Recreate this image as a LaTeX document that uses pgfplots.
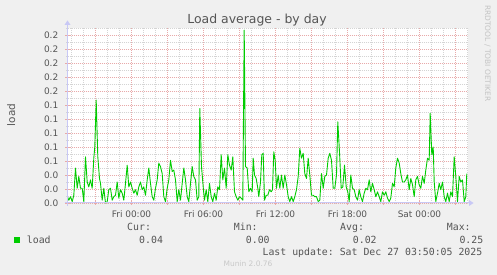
\documentclass[border=0pt]{standalone}
\usepackage{fontspec}
\setmainfont{DejaVu Sans}
\setmonofont{DejaVu Sans Mono}
\usepackage{pgfplots}
\pgfplotsset{compat=1.18}
\definecolor{bg}{RGB}{240,240,240}
\definecolor{txt}{RGB}{85,85,85}
\definecolor{gridc}{RGB}{212,212,212}
\definecolor{mgridc}{RGB}{232,170,170}
\definecolor{axisc}{RGB}{200,200,245}
\definecolor{lineg}{RGB}{0,204,0}
\definecolor{wm}{RGB}{195,195,195}
\definecolor{ver}{RGB}{200,200,200}
\begin{document}
\begin{tikzpicture}
\path[use as bounding box, fill=bg] (0,0) rectangle (497bp,275bp);
\begin{axis}[
  at={(67.5bp,72bp)}, anchor=south west, scale only axis,
  width=400bp, height=175bp,
  xmin=0, xmax=400, ymin=0, ymax=0.25,
  axis line style={draw=none},
  axis background/.style={fill=white},
  xtick={28,64,100,136,172,208,244,280,316,352,388},
  xticklabels={,Fri 00:00,,Fri 06:00,,Fri 12:00,,Fri 18:00,,Sat 00:00,},
  minor xtick={4,16,40,52,76,88,112,124,148,160,184,196,220,232,256,268,292,304,328,340,364,376,400},
  ytick={0,0.02,0.04,0.06,0.08,0.10,0.12,0.14,0.16,0.18,0.20,0.22,0.24},
  yticklabels={0.0,0.0,0.0,0.1,0.1,0.1,0.1,0.1,0.2,0.2,0.2,0.2,0.2},
  minor ytick={0.01,0.03,0.05,0.07,0.09,0.11,0.13,0.15,0.17,0.19,0.21,0.23,0.25},
  grid=both,
  major grid style={draw=mgridc, dash pattern=on 1bp off 1bp, line width=0.7bp},
  minor grid style={draw=gridc, dash pattern=on 1bp off 1bp, line width=0.7bp},
  xtick pos=bottom, ytick pos=left,
  tick align=center,
  major tick length=4bp, minor tick length=2bp,
  every major tick/.append style={draw=mgridc, solid, line width=0.8bp},
  every minor tick/.append style={draw=gridc, solid, line width=0.8bp},
  ticklabel style={font=\fontsize{9}{10}\selectfont, text=txt},
  xticklabel style={anchor=base, inner sep=0pt, yshift=-13bp},
  yticklabel style={anchor=east, inner sep=0pt, xshift=-7bp},
  clip=false,
]
\addplot[color=lineg, line width=0.9bp, line join=round] coordinates {
(0,0.009)(1.3,0.004)(3,0.009)(4.7,0.002)(6.3,0.011)(8,0.050)(9.7,0.021)(11.3,0.038)(13,0.021)(14.7,0.021)(16.3,0.002)(18,0.066)(19.7,0.030)(21.3,0.023)(23,0.033)(24.7,0.021)(26.3,0.064)(27.3,0.080)(28.7,0.147)(30.3,0.066)(32,0.035)(33,0.028)(34.7,0.004)(36.3,0.021)(38,0.000)(39.7,0.002)(41.3,0.019)(43,0.021)(44.7,0.004)(46.3,0.009)(48,0.011)(49.7,0.030)(51.3,0.007)(53,0.019)(54.7,0.014)(56.3,0.004)(58,0.028)(59.7,0.054)(61.3,0.023)(63,0.030)(64.7,0.021)(66.3,0.014)(68,0.019)(69.7,0.011)(71.3,0.023)(73,0.030)(74.7,0.019)(76.3,0.023)(78,0.011)(79.7,0.033)(81.3,0.050)(83,0.028)(84.7,0.009)(86.3,0.004)(88,0.021)(89.7,0.033)(91.3,0.057)(93,0.052)(94.7,0.042)(96.3,0.009)(98,0.002)(99.7,0.021)(101.3,0.033)(103,0.061)(104.7,0.045)(106.3,0.047)(108,0.033)(109.7,0.002)(111.3,0.019)(113,0.004)(114.7,0.028)(116.3,0.050)(118,0.033)(119.7,0.009)(121.3,0.002)(123,0.028)(124.7,0.052)(126.3,0.038)(128,0.033)(129.7,0.004)(131.3,0.009)(132.3,0.135)(134,0.052)(135.7,0.023)(137,0.004)(138.7,0.019)(140.3,0.002)(142,0.028)(143.7,0.009)(145.3,0.002)(147,0.014)(148.7,0.004)(150.3,0.023)(152,0.019)(153.7,0.069)(155.3,0.033)(157,0.050)(158.7,0.021)(160.3,0.069)(162,0.054)(163.7,0.047)(165.3,0.066)(167,0.016)(168.7,0.009)(170.3,0.004)(172,0.009)(173.7,0.007)(175.3,0.004)(176.7,0.247)
(178,0.052)(179.7,0.050)(181.3,0.016)(183,0.021)(184.7,0.016)(185.7,0.064)(187,0.040)(188.7,0.035)(190.3,0.021)(191.3,0.009)(193,0.030)(194.3,0.069)(195.7,0.071)(197,0.004)(198.7,0.011)(200.3,0.011)(202,0.019)(203.7,0.016)(205,0.019)(206.3,0.073)(207.7,0.061)(209,0.021)(210.7,0.040)(212.3,0.021)(214,0.040)(215.7,0.021)(217.3,0.040)(219,0.026)(220.7,0.009)(222.3,0.002)(224,0.009)(225.7,0.002)(227.3,0.009)(229,0.019)(230.7,0.038)(232.3,0.078)(234,0.064)(235.7,0.071)(237.3,0.042)(239,0.035)(240.7,0.064)(242.3,0.040)(244,0.011)(245.7,0.011)(247.3,0.009)(249,0.009)(250.7,0.002)(252.3,0.004)(254,0.042)(255.7,0.021)(257.3,0.038)(259,0.040)(260.7,0.064)(262.3,0.071)(264,0.061)(265.7,0.021)(267.3,0.021)(269,0.040)(270.3,0.116)(272,0.073)(273.7,0.021)(275.3,0.023)(277,0.054)(278.7,0.023)(280.3,0.016)(281.7,0.002)(283.3,0.040)(285,0.021)(286.7,0.019)(288.3,0.009)(290,0.004)(291.7,0.019)(293.3,0.009)(295,0.002)(296.7,0.014)(298.3,0.021)(300,0.019)(301.7,0.033)(303.3,0.016)(305,0.028)(306.7,0.019)(308.3,0.009)(310,0.016)(311.7,0.009)(313.3,0.002)(315,0.016)(316.7,0.011)(318.3,0.016)(320,0.007)(321.7,0.002)(323.3,0.007)(325,0.028)(326.7,0.023)(328.3,0.050)(330,0.064)(331.7,0.057)(333.3,0.042)(335,0.030)(336.7,0.030)(338.3,0.033)(340,0.040)(341.7,0.019)(343.3,0.035)(345,0.026)(346.7,0.009)(348.3,0.033)(350,0.038)(351.7,0.026)(353.3,0.021)(355,0.038)(356.7,0.028)(358.3,0.047)(360,0.064)(361.7,0.061)(362.7,0.128)(364.3,0.069)(365.7,0.080)(366.7,0.030)(368.3,0.002)(370,0.014)(371.7,0.028)(373.3,0.019)(375,0.030)(376.7,0.009)(378.3,0.002)(380,0.014)(381.7,0.002)(383.3,0.016)(385,0.009)(386.7,0.066)(388.3,0.038)(390,0.002)(391.7,0.038)(393.3,0.030)(395,0.033)(396.7,0.002)(398.3,0.009)(399.3,0.042)
};
\end{axis}
% axis lines with arrows
\draw[axisc, line width=1bp] (67.5bp,69bp) -- (67.5bp,250bp);
\fill[axisc] (64.5bp,250bp) -- (70.5bp,250bp) -- (67.5bp,254.5bp) -- cycle;
\draw[axisc, line width=1bp] (64.5bp,72bp) -- (469bp,72bp);
\fill[axisc] (469bp,69bp) -- (469bp,75bp) -- (473.5bp,72bp) -- cycle;
% texts
\node[anchor=base, inner sep=0pt, text=txt, font=\fontsize{12.5}{14}\selectfont] at (257bp,251bp) {Load average - by day};
\node[anchor=base, inner sep=0pt, rotate=90, text=txt, font=\fontsize{10.5}{12}\selectfont] at (15bp,160bp) {load};
\node[anchor=base west, inner sep=0pt, rotate=-90, text=wm, font=\fontsize{7.5}{9}\selectfont] at (485bp,270bp) {RRDTOOL / TOBI OETIKER};
\begin{scope}[every node/.style={anchor=base west, inner sep=0pt, text=txt, font=\ttfamily\fontsize{9.9}{11}\selectfont}]
\node at (127bp,44.5bp) {Cur:};
\node at (233.7bp,44.5bp) {Min:};
\node at (340bp,44.5bp) {Avg:};
\node at (446.7bp,44.5bp) {Max:};
\node at (26.7bp,32bp) {load};
\node at (139bp,32bp) {0.04};
\node at (245.7bp,32bp) {0.00};
\node at (352.7bp,32bp) {0.02};
\node at (459.3bp,32bp) {0.25};
\node[anchor=base east] at (482.5bp,20bp) {Last update: Sat Dec 27 03:50:05 2025};
\end{scope}
\fill[lineg] (14bp,32.3bp) rectangle (20bp,38.3bp);
\node[anchor=base, inner sep=0pt, text=ver, font=\fontsize{7.5}{9}\selectfont] at (248bp,8.5bp) {Munin 2.0.76};
\end{tikzpicture}
\end{document}
